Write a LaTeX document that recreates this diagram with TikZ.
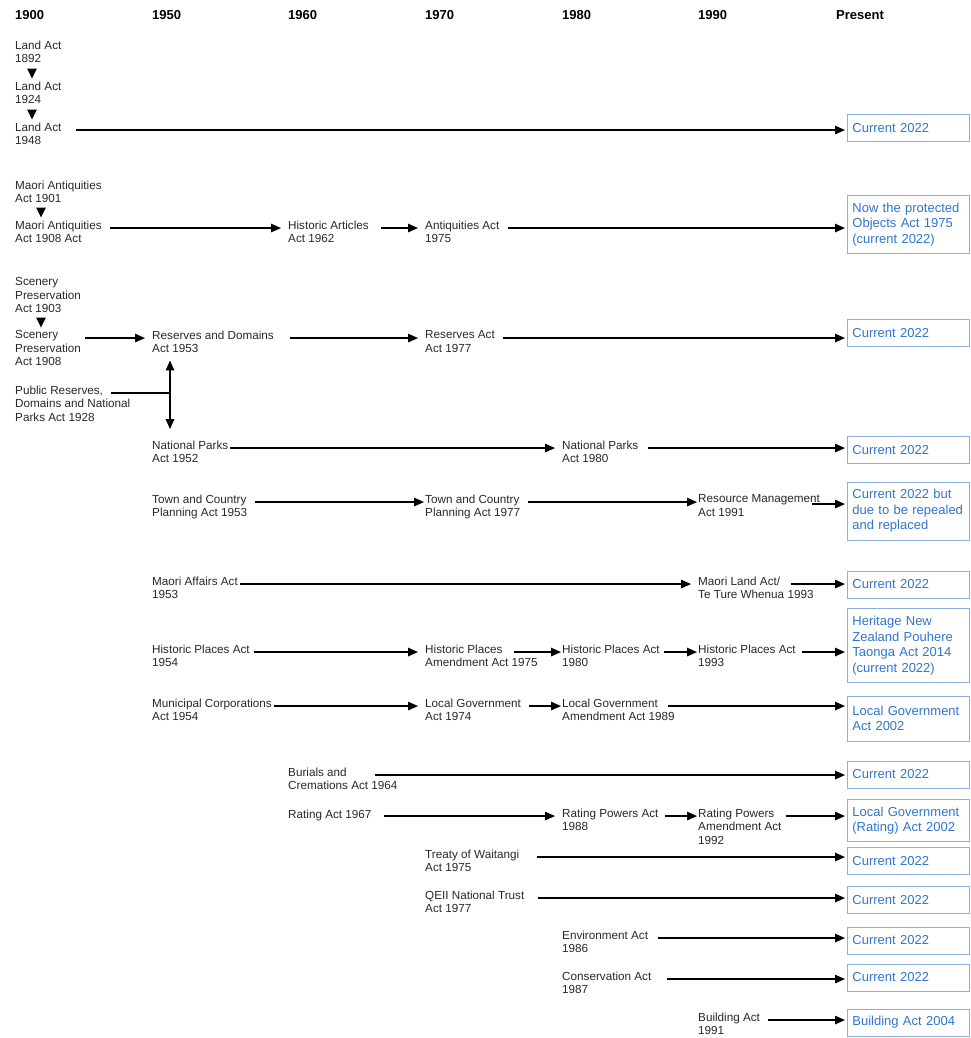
\documentclass[tikz,border=0pt]{standalone}
\usepackage{fontspec}
\setmainfont{Liberation Sans}
\usetikzlibrary{arrows.meta,positioning}

\definecolor{actgray}{RGB}{40,40,40}
\definecolor{nowblue}{RGB}{47,117,204}
\definecolor{nowframe}{RGB}{141,176,228}

\begin{document}
\begin{tikzpicture}[
x=1pt, y=-1pt,
year/.style={anchor=base west, inner sep=0pt, font=\fontsize{13}{15}\selectfont\bfseries},
act/.style={anchor=north west, yshift=5.45pt, inner sep=0pt, align=left, text=actgray,
  font=\fontsize{11.7}{13.5}\selectfont, execute at begin node=\strut},
now/.style={anchor=west, draw=nowframe, line width=0.8pt, text=nowblue, align=left,
  text width=112pt, inner xsep=5pt, inner ysep=7.5pt, minimum height=27pt,
  font=\fontsize{13}{15.5}\selectfont},
onrow/.style={yshift=-7.5pt},
arrow/.style={-{Triangle[length=10pt,width=8.5pt]}, line width=1.2pt, shorten <=8pt, shorten >=7pt},
toend/.style={arrow, shorten >=2pt},
touch/.style={shorten >=1pt},
down/.style={-{Triangle[length=10pt,width=9.5pt]}, line width=1.2pt, shorten <=4pt, shorten >=3pt},
link/.style={line width=1.2pt}
]
\useasboundingbox (0,0) rectangle (971,1038);

% time axis
\node[year] (y1900) at (15,20) {1900};
\node[year] (y1950) at (152,20) {1950};
\node[year] (y1960) at (288,20) {1960};
\node[year] (y1970) at (425,20) {1970};
\node[year] (y1980) at (562,20) {1980};
\node[year] (y1990) at (698,20) {1990};
\node[year] (ynow) at (836,20) {Present};

% acts
\node[act] (land92) at (15,46) {Land Act\\1892};
\node[act] (land24) at (15,87) {Land Act\\1924};
\node[act] (land48) at (15,128) {Land Act\\1948};
\node[act] (ma01) at (15,186) {Maori Antiquities\\Act 1901};
\node[act] (ma08) at (15,226) {Maori Antiquities\\Act 1908 Act};
\node[act] (art62) at (288,226) {Historic Articles\\Act 1962};
\node[act] (ant75) at (425,226) {Antiquities Act\\1975};
\node[act] (scen03) at (15,283) {Scenery\\Preservation\\Act 1903};
\node[act] (scen08) at (15,336) {Scenery\\Preservation\\Act 1908};
\node[act] (resdom53) at (152,336) {Reserves and Domains\\Act 1953};
\node[act] (res77) at (425,336) {Reserves Act\\Act 1977};
\node[act] (pubres28) at (15,391) {Public Reserves,\\Domains and National\\Parks Act 1928};
\node[act] (np52) at (152,446) {National Parks\\Act 1952};
\node[act] (np80) at (562,446) {National Parks\\Act 1980};
\node[act] (tcp53) at (152,500) {Town and Country\\Planning Act 1953};
\node[act] (tcp77) at (425,500) {Town and Country\\Planning Act 1977};
\node[act] (rma91) at (698,500) {Resource Management\\Act 1991};
\node[act] (maff53) at (152,582) {Maori Affairs Act\\1953};
\node[act] (mla93) at (698,582) {Maori Land Act/\\Te Ture Whenua 1993};
\node[act] (hpa54) at (152,650) {Historic Places Act\\1954};
\node[act] (hpa75) at (425,650) {Historic Places\\Amendment Act 1975};
\node[act] (hpa80) at (562,650) {Historic Places Act\\1980};
\node[act] (hpa93) at (698,650) {Historic Places Act\\1993};
\node[act] (mca54) at (152,704) {Municipal Corporations\\Act 1954};
\node[act] (lga74) at (425,704) {Local Government\\Act 1974};
\node[act] (lga89) at (562,704) {Local Government\\Amendment Act 1989};
\node[act] (bca64) at (288,773) {Burials and\\Cremations Act 1964};
\node[act] (ra67) at (288,814) {Rating Act 1967};
\node[act] (rpa88) at (562,814) {Rating Powers Act\\1988};
\node[act] (rpa92) at (698,814) {Rating Powers\\Amendment Act\\1992};
\node[act] (tow75) at (425,855) {Treaty of Waitangi\\Act 1975};
\node[act] (qe77) at (425,896) {QEII National Trust\\Act 1977};
\node[act] (env86) at (562,936) {Environment Act\\1986};
\node[act] (cons87) at (562,977) {Conservation Act\\1987};
\node[act] (ba91) at (698,1018) {Building Act\\1991};

% present status
\node[now] (b1) at (847,128) {Current 2022};
\node[now] (b2) at (847,224.5) {Now the protected\\Objects Act 1975\\(current 2022)};
\node[now] (b3) at (847,333) {Current 2022};
\node[now] (b4) at (847,450) {Current 2022};
\node[now] (b5) at (847,511) {Current 2022 but\\due to be repealed\\and replaced};
\node[now] (b6) at (847,584.5) {Current 2022};
\node[now] (b7) at (847,645.5) {Heritage New\\Zealand Pouhere\\Taonga Act 2014\\(current 2022)};
\node[now, minimum height=45pt] (b8) at (847,718.5) {Local Government\\Act 2002};
\node[now] (b9) at (847,774.5) {Current 2022};
\node[now] (b10) at (847,820.5) {Local Government\\(Rating) Act 2002};
\node[now] (b11) at (847,861) {Current 2022};
\node[now] (b12) at (847,900) {Current 2022};
\node[now] (b13) at (847,940.5) {Current 2022};
\node[now] (b14) at (847,977.5) {Current 2022};
\node[now] (b15) at (847,1022.5) {Building Act 2004};

\coordinate (split) at (170,392);

% land
\draw[down] ([xshift=17pt]land92.south west) -- ([xshift=17pt]land24.north west);
\draw[down] ([xshift=17pt]land24.south west) -- ([xshift=17pt]land48.north west);
\draw[toend, shorten <=14pt] ([onrow]land48.north east) -- ([onrow]land48.north east -| b1.west);

% antiquities
\draw[down] ([xshift=26pt]ma01.south west) -- ([xshift=26pt]ma08.north west);
\draw[arrow] ([onrow]ma08.north east) -- ([onrow]art62.north west);
\draw[arrow, shorten <=12pt] ([onrow]art62.north east) -- ([onrow]ant75.north west);
\draw[toend] ([onrow]ant75.north east) -- ([onrow]ant75.north east -| b2.west);

% reserves
\draw[down] ([xshift=26pt]scen03.south west) -- ([xshift=26pt]scen08.north west);
\draw[arrow, shorten <=4pt] ([onrow]scen08.north east) -- ([onrow]resdom53.north west);
\draw[arrow, shorten <=16pt] ([onrow]resdom53.north east) -- ([onrow]res77.north west);
\draw[toend] ([onrow]res77.north east) -- ([onrow]res77.north east -| b3.west);
\draw[link, shorten <=-20pt] ([onrow]pubres28.north east) -- ([onrow]pubres28.north east -| split);
\draw[arrow, shorten <=0pt, shorten >=3.5pt] (split) -- (split |- resdom53.south);
\draw[arrow, shorten <=0pt, shorten >=11.5pt] (split) -- (split |- np52.north);

% parks
\draw[arrow, shorten <=2pt] ([onrow]np52.north east) -- ([onrow]np80.north west);
\draw[toend, shorten <=10pt] ([onrow]np80.north east) -- ([onrow]np80.north east -| b4.west);

% planning
\draw[arrow, touch] ([onrow]tcp53.north east) -- ([onrow]tcp77.north west);
\draw[arrow, touch] ([onrow]tcp77.north east) -- ([onrow]rma91.north west);
\draw[toend, shorten <=-8pt] ([onrow, yshift=-2pt]rma91.north east) -- ([onrow, yshift=-2pt]rma91.north east -| b5.west);

% maori land
\draw[arrow, shorten <=2pt] ([onrow]maff53.north east) -- ([onrow]mla93.north west);
\draw[toend, shorten <=-23pt] ([onrow]mla93.north east) -- ([onrow]mla93.north east -| b6.west);

% heritage
\draw[arrow, shorten <=4pt] ([onrow]hpa54.north east) -- ([onrow]hpa75.north west);
\draw[arrow, touch, shorten <=-24pt] ([onrow]hpa75.north east) -- ([onrow]hpa80.north west);
\draw[arrow, touch, shorten <=4pt] ([onrow]hpa80.north east) -- ([onrow]hpa93.north west);
\draw[toend, shorten <=6pt] ([onrow]hpa93.north east) -- ([onrow]hpa93.north east -| b7.west);

% local government
\draw[arrow, shorten <=2pt] ([onrow]mca54.north east) -- ([onrow]lga74.north west);
\draw[arrow, touch] ([onrow]lga74.north east) -- ([onrow]lga89.north west);
\draw[toend, shorten <=-7pt] ([onrow]lga89.north east) -- ([onrow]lga89.north east -| b8.west);
\draw[toend, shorten <=-23pt] ([onrow]bca64.north east) -- ([onrow]bca64.north east -| b9.west);

% rating
\draw[arrow, shorten <=12pt] ([onrow]ra67.north east) -- ([onrow]rpa88.north west);
\draw[arrow, touch, shorten <=6pt] ([onrow]rpa88.north east) -- ([onrow]rpa92.north west);
\draw[toend, shorten <=4pt] ([onrow]rpa92.north east) -- ([onrow]rpa92.north east -| b10.west);

% later acts
\draw[toend, shorten <=18pt] ([onrow]tow75.north east) -- ([onrow]tow75.north east -| b11.west);
\draw[toend, shorten <=14pt] ([onrow]qe77.north east) -- ([onrow]qe77.north east -| b12.west);
\draw[toend, shorten <=10pt] ([onrow]env86.north east) -- ([onrow]env86.north east -| b13.west);
\draw[toend, shorten <=15pt] ([onrow]cons87.north east) -- ([onrow]cons87.north east -| b14.west);
\draw[toend] ([onrow]ba91.north east) -- ([onrow]ba91.north east -| b15.west);
\end{tikzpicture}
\end{document}
